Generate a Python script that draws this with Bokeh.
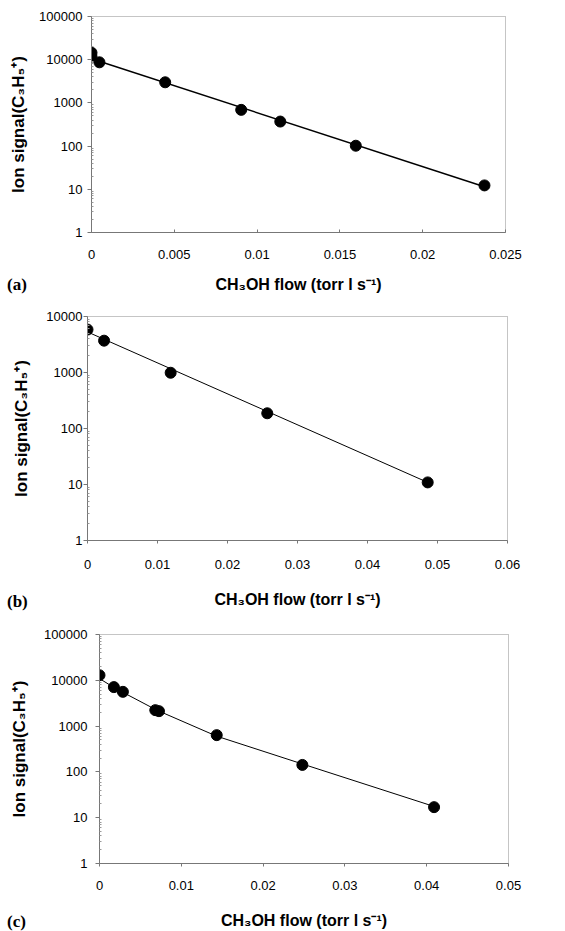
from bokeh.plotting import figure
from bokeh.layouts import column
from bokeh.models import FixedTicker, CustomJSTickFormatter, Range1d, Div
from bokeh.embed import file_html
from bokeh.resources import INLINE

# ---- data ----
a_flow = [0.0, 0.0, 0.00048, 0.00445, 0.00904, 0.0114, 0.01596, 0.02373]
a_signal = [14500, 11800, 8700, 3000, 690, 370, 102, 12.3]
a_fit_flow = [0.0, 0.02373]
a_fit_signal = [10500, 11.5]

b_flow = [0.0, 0.00237, 0.01188, 0.02568, 0.0486]
b_signal = [5850, 3700, 990, 187, 10.9]
b_fit_flow = [0.0, 0.0486]
b_fit_signal = [5300, 10.9]

c_flow = [0.0, 0.00176, 0.00286, 0.00682, 0.00727, 0.01433, 0.0248, 0.0409]
c_signal = [12900, 7100, 5600, 2230, 2120, 635, 142, 17.0]
c_fit_flow = [0.0, 0.0018, 0.003, 0.007, 0.0143, 0.0248, 0.0409]
c_fit_signal = [10900, 6900, 5300, 2230, 605, 149, 17.6]

a_xticks = [0, 0.005, 0.01, 0.015, 0.02, 0.025]
b_xticks = [0, 0.01, 0.02, 0.03, 0.04, 0.05, 0.06]
c_xticks = [0, 0.01, 0.02, 0.03, 0.04, 0.05]
a_yticks = [1, 10, 100, 1000, 10000, 100000]
b_yticks = [1, 10, 100, 1000, 10000]
c_yticks = [1, 10, 100, 1000, 10000, 100000]

panel_tags = ["(a)", "(b)", "(c)"]
x_title = "CH\u2083OH flow (torr l s\u207b\u00b9)"
y_title = "Ion signal(C\u2083H\u2085\u207a)"

FONT = "Liberation Sans"
W = 565


def make_panel(flow, signal, fit_flow, fit_signal, xticks, yticks,
               height, mb_top, mb_left, mb_right, mb_bottom,
               xtick_in, xtick_out, xlab_stand, xtitle_stand,
               ylab_stand, ytitle_stand, lw):
    p = figure(width=W, height=height, y_axis_type="log",
               x_range=Range1d(xticks[0], xticks[-1]),
               y_range=Range1d(yticks[0], yticks[-1]),
               output_backend="svg", toolbar_location=None,
               min_border_top=mb_top, min_border_left=mb_left,
               min_border_right=mb_right, min_border_bottom=mb_bottom)
    p.grid.visible = False
    p.background_fill_color = "white"
    p.border_fill_color = "white"
    p.outline_line_color = "#8a8a8a"
    p.outline_line_width = 1
    p.outline_line_dash = "1 1"

    minors = []
    for d in yticks[:-1]:
        for k in range(2, 10):
            minors.append(d * k)

    xa = p.xaxis[0]
    xa.ticker = FixedTicker(ticks=xticks)
    xa.formatter = CustomJSTickFormatter(code="return String(Number(tick.toPrecision(6)));")
    xa.axis_line_color = "#777777"
    xa.major_tick_line_color = "#777777"
    xa.major_tick_in = xtick_in
    xa.major_tick_out = xtick_out
    xa.minor_tick_line_color = None
    xa.major_label_text_font = FONT
    xa.major_label_text_font_size = "13px"
    xa.major_label_text_color = "black"
    xa.major_label_standoff = xlab_stand
    xa.axis_label = x_title
    xa.axis_label_text_font = FONT
    xa.axis_label_text_font_style = "bold"
    xa.axis_label_text_font_size = "16px"
    xa.axis_label_text_color = "black"
    xa.axis_label_standoff = xtitle_stand

    ya = p.yaxis[0]
    ya.ticker = FixedTicker(ticks=yticks, minor_ticks=minors)
    ya.formatter = CustomJSTickFormatter(code="return tick.toFixed(0);")
    ya.axis_line_color = "#777777"
    ya.major_tick_line_color = "#777777"
    ya.major_tick_in = 0
    ya.major_tick_out = 4
    ya.minor_tick_line_color = "#999999"
    ya.minor_tick_in = 2
    ya.minor_tick_out = 0
    ya.major_label_text_font = FONT
    ya.major_label_text_font_size = "13px"
    ya.major_label_text_color = "black"
    ya.major_label_standoff = ylab_stand
    ya.axis_label = y_title
    ya.axis_label_text_font = FONT
    ya.axis_label_text_font_style = "bold"
    ya.axis_label_text_font_size = "17px"
    ya.axis_label_text_color = "black"
    ya.axis_label_standoff = ytitle_stand

    p.line(fit_flow, fit_signal, line_color="black", line_width=lw)
    p.scatter(flow, signal, size=11, marker="circle",
              fill_color="black", line_color="black")
    return p


def make_tag(text, m_top, m_bottom):
    return Div(text=text, width=40, height=20, margin=(m_top, 0, m_bottom, 7),
               styles={"font-family": "Liberation Serif", "font-size": "17px",
                       "font-weight": "bold", "line-height": "20px",
                       "color": "black"})


pa = make_panel(a_flow, a_signal, a_fit_flow, a_fit_signal, a_xticks, a_yticks,
                308, 16, 91, 60, 76, 3, 0, 17, 14, 5, 8, 1.5)
pb = make_panel(b_flow, b_signal, b_fit_flow, b_fit_signal, b_xticks, b_yticks,
                302, 8, 87, 58, 67, 0, 3, 16, 19, 1, 12, 1.0)
pc = make_panel(c_flow, c_signal, c_fit_flow, c_fit_signal, c_xticks, c_yticks,
                321, 24, 99, 57, 67, 0, 3, 14, 19, 8, 12, 1.0)

root_a = column(pa, make_tag(panel_tags[0], -33, 13), spacing=0)
root_b = column(pb, make_tag(panel_tags[1], -18, -2), spacing=0)
root_c = column(pc, make_tag(panel_tags[2], -19, -1), spacing=0)

open("out.html", "w").write(file_html([root_a, root_b, root_c], INLINE))
